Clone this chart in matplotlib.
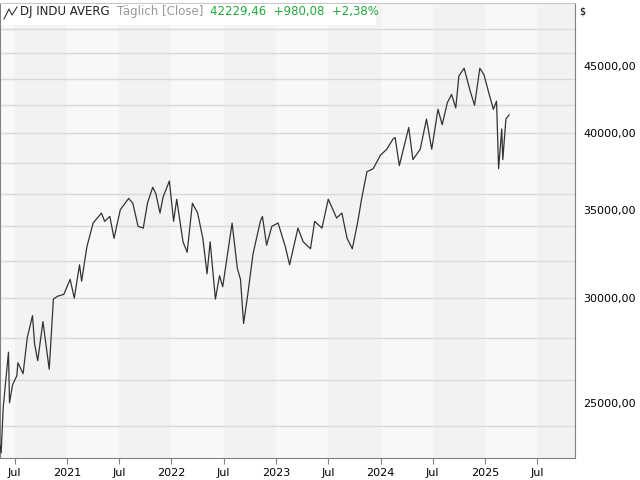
import matplotlib
matplotlib.use("Agg")
import matplotlib.pyplot as plt
from matplotlib.lines import Line2D
import numpy as np

# decimal years and index values
years = [2020.36,2020.37,2020.39,2020.44,2020.45,2020.48,2020.52,2020.53,2020.58,2020.62,2020.67,2020.69,2020.72,
         2020.77,2020.83,2020.87,2020.91,2020.97,2021.03,2021.07,2021.12,2021.14,2021.19,2021.25,2021.33,2021.36,
         2021.41,2021.45,2021.51,2021.59,2021.63,2021.68,2021.73,2021.77,2021.82,2021.85,2021.89,2021.92,2021.98,
         2022.02,2022.05,2022.11,2022.15,2022.20,2022.25,2022.30,2022.34,2022.37,2022.42,2022.46,2022.49,2022.58,
         2022.63,2022.66,2022.69,2022.73,2022.78,2022.85,2022.87,2022.91,2022.96,2023.02,2023.09,2023.13,2023.21,
         2023.26,2023.33,2023.37,2023.44,2023.50,2023.58,2023.63,2023.68,2023.73,2023.78,2023.82,2023.87,2023.93,
         2024.00,2024.06,2024.12,2024.14,2024.18,2024.27,2024.31,2024.38,2024.44,2024.49,2024.55,2024.59,2024.64,
         2024.68,2024.72,2024.75,2024.80,2024.86,2024.90,2024.95,2024.99,2025.04,2025.08,2025.11,2025.13,2025.16,
         2025.17,2025.20,2025.23]
values = [23200,22900,24800,27300,25000,25800,26200,26800,26300,28000,29100,27700,26900,
          28800,26500,29950,30100,30200,31000,30000,31800,30900,32800,34200,34800,34300,
          34600,33300,35000,35700,35400,34000,33900,35400,36400,36000,34800,35800,36800,
          34300,35650,33100,32500,35400,34800,33300,31300,33100,29950,31200,30600,34200,
          31600,31000,28700,30200,32400,34300,34600,32900,34000,34200,32800,31800,33900,
          33100,32700,34300,33900,35650,34500,34800,33300,32700,34200,35700,37400,37600,
          38500,38900,39600,39700,37800,40400,38200,38900,41000,38900,41700,40600,42200,
          42800,41800,44200,44800,43000,42000,44800,44300,42800,41700,42300,37600,40300,
          38200,41000,41300]

tick_pos = [2020.5,2021,2021.5,2022,2022.5,2023,2023.5,2024,2024.5,2025,2025.5]
tick_lab = ["Jul","2021","Jul","2022","Jul","2023","Jul","2024","Jul","2025","Jul"]
ylab_vals = [25000,30000,35000,40000,45000]
grid_vals = list(range(24000, 48001, 2000))

fig = plt.figure(figsize=(6.4,4.8), dpi=100)
ax = fig.add_axes([0, 22/480, 575/640, 455/480])
ax.set_yscale("log")
ax.set_xlim(2020.359, 2025.861)
ax.set_ylim(22700, 50200)

# half-year background bands
edges = [2020.359] + [y for y in np.arange(2020.5, 2026.0, 0.5)] + [2025.861]
for a, b in zip(edges[:-1], edges[1:]):
    mid = (a + b) / 2
    col = "#f2f2f2" if (mid % 1) > 0.5 else "#f8f8f8"
    ax.axvspan(a, min(b, 2025.861), color=col, lw=0, zorder=0)

for g in grid_vals:
    ax.axhline(g, color="#d9d9d9", lw=1, zorder=1)

ax.plot(years, values, color="#333333", lw=0.9, zorder=3)

ax.yaxis.tick_right()
ax.set_yticks(ylab_vals)
ax.set_yticklabels([f"{v},00" for v in ylab_vals], fontsize=8)
ax.yaxis.set_minor_locator(matplotlib.ticker.NullLocator())
ax.tick_params(axis="y", length=0, pad=6)
ax.set_xticks(tick_pos)
ax.set_xticklabels(tick_lab, fontsize=8)
ax.tick_params(axis="x", length=4, color="#808080", pad=3, direction="out")
for s in ax.spines.values():
    s.set_color("#808080")
ax.spines["top"].set_color("#c8c8c8")

fig.text(579/640, 1 - 12/480, "$", fontsize=7, va="center")

# header
fig.patches.append(plt.Rectangle((1/640, 1 - 25/480), 375/640, 21/480, transform=fig.transFigure,
                                 facecolor="white", edgecolor="none", zorder=5))
fig.lines.append(Line2D([4/640, 9/640, 12/640, 17/640], [1-19/480, 1-9/480, 1-15/480, 1-7/480],
                        transform=fig.transFigure, color="#333333", lw=0.8, zorder=6))
ty = 1 - 12/480
t1 = fig.text(20/640, ty, "DJ INDU AVERG", fontsize=8.5, color="#222222", va="center", zorder=6)
fig.text(117/640, ty, "Täglich [Close]", fontsize=8.5, color="#999999", va="center", zorder=6)
fig.text(210/640, ty, "42229,46  +980,08  +2,38%", fontsize=8.5, color="#22a83a", va="center", zorder=6)

fig.savefig("out.png", dpi=100)
